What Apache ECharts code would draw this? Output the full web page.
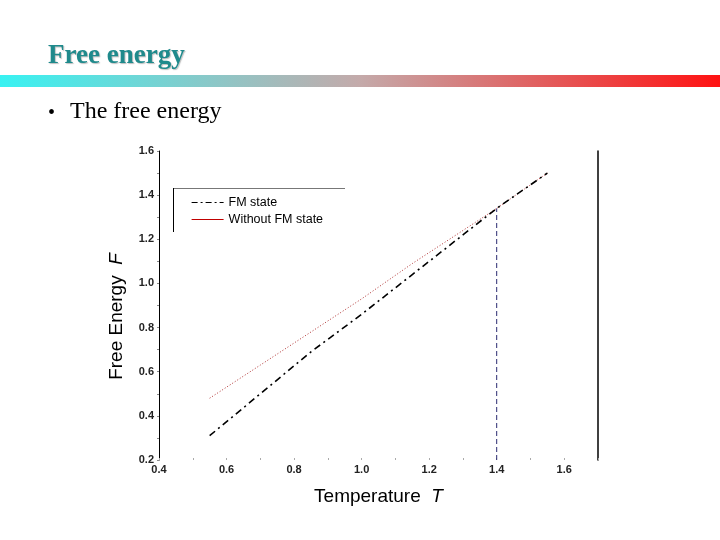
<!DOCTYPE html>
<html>
<head>
<meta charset="utf-8">
<style>
  html, body { margin: 0; padding: 0; background: #fff; }
  #chart { width: 720px; height: 540px; }
</style>
<script src="https://cdn.jsdelivr.net/npm/echarts@6/dist/echarts.min.js"></script>
</head>
<body>
<div id="chart"></div>
<script>
// values
var temps = [0.55, 0.7, 0.85, 1.0, 1.15, 1.3, 1.4, 1.55]
var fmState = [0.31, 0.50, 0.69, 0.86, 1.04, 1.22, 1.34, 1.50]
var withoutFM = [0.48, 0.63, 0.78, 0.93, 1.09, 1.24, 1.34, 1.50]
var tc = 1.4
var tcEnergy = 1.34
var legendNames = ['FM state', 'Without FM state']

function pairs(xs, ys) {
  return xs.map(function (x, i) { return [x, ys[i]] })
}

var chart = echarts.init(document.getElementById('chart'))

chart.setOption({
  backgroundColor: '#fff',
  animation: false,
  title: {
    text: 'Free energy',
    left: 43,
    top: 38,
    textStyle: {
      fontFamily: 'Liberation Serif',
      fontWeight: 'bold',
      fontSize: 27,
      color: '#1f8a8c',
      textShadowColor: 'rgba(0,0,0,0.25)',
      textShadowOffsetX: 1,
      textShadowOffsetY: 1,
      textShadowBlur: 1
    }
  },
  graphic: [
    {
      type: 'rect',
      shape: { x: 0, y: 75, width: 720, height: 12 },
      style: {
        fill: {
          type: 'linear', x: 0, y: 0, x2: 1, y2: 0,
          colorStops: [
            { offset: 0, color: '#38f2f2' },
            { offset: 0.5, color: '#c4aaaa' },
            { offset: 1, color: '#ff1212' }
          ]
        }
      },
      silent: true
    },
    {
      type: 'text',
      left: 48,
      top: 104,
      style: { text: '\u2022', font: '20px "Liberation Serif"', fill: '#000' }
    },
    {
      type: 'text',
      left: 70,
      top: 100,
      style: { text: 'The free energy', font: '24px "Liberation Serif"', fill: '#000' }
    },
    // partial frame round the legend
    {
      type: 'line',
      shape: { x1: 173, y1: 188.5, x2: 345, y2: 188.5 },
      style: { stroke: '#777', lineWidth: 1 }
    },
    {
      type: 'line',
      shape: { x1: 173.5, y1: 188, x2: 173.5, y2: 232 },
      style: { stroke: '#000', lineWidth: 1 }
    }
  ],
  legend: {
    orient: 'vertical',
    left: 191,
    top: 196,
    padding: 0,
    itemWidth: 32,
    itemHeight: 12,
    itemGap: 4,
    textStyle: { fontFamily: 'Liberation Sans', fontSize: 12.5, color: '#000' },
    data: [
      {
        name: legendNames[0],
        lineStyle: { type: [6, 3, 2, 3], width: 1.2, color: '#000' },
        itemStyle: { opacity: 0 }
      },
      {
        name: legendNames[1],
        lineStyle: { type: 'solid', width: 1, color: '#c00000' },
        itemStyle: { opacity: 0 }
      }
    ]
  },
  grid: {
    left: 159,
    right: 122,
    top: 151,
    bottom: 80,
    containLabel: false
  },
  xAxis: {
    type: 'value',
    min: 0.4,
    max: 1.7,
    interval: 0.2,
    name: '{n|Temperature  }{i|T}',
    nameLocation: 'middle',
    nameGap: 27,
    nameTextStyle: {
      rich: {
        n: { fontFamily: 'Liberation Sans', fontSize: 19, color: '#000' },
        i: { fontFamily: 'Liberation Sans', fontSize: 19, fontStyle: 'italic', color: '#000' }
      }
    },
    axisLine: { show: false },
    axisTick: { show: true, length: 2, inside: true, lineStyle: { color: '#aaa' } },
    minorTick: { show: true, splitNumber: 2, length: 2, lineStyle: { color: '#aaa' } },
    splitLine: { show: false },
    axisLabel: {
      showMaxLabel: false,
      margin: 4,
      fontFamily: 'Liberation Sans',
      fontSize: 11,
      fontWeight: 'bold',
      color: '#222',
      formatter: function (v) { return v.toFixed(1) }
    }
  },
  yAxis: [
    {
      type: 'value',
      min: 0.2,
      max: 1.6,
      interval: 0.2,
      name: '{n|Free Energy  }{i|F}',
      nameLocation: 'middle',
      nameGap: 33,
      nameRotate: 90,
      nameTextStyle: {
        padding: [0, 22, 0, 0],
        rich: {
          n: { fontFamily: 'Liberation Sans', fontSize: 19, color: '#000' },
          i: { fontFamily: 'Liberation Sans', fontSize: 19, fontStyle: 'italic', color: '#000' }
        }
      },
      axisLine: { show: true, lineStyle: { color: '#000', width: 1 } },
      axisTick: { show: true, length: 2, lineStyle: { color: '#888' } },
      minorTick: { show: true, splitNumber: 2, length: 2, lineStyle: { color: '#888' } },
      splitLine: { show: false },
      axisLabel: {
        margin: 5,
        fontFamily: 'Liberation Sans',
        fontSize: 11,
        fontWeight: 'bold',
        color: '#222',
        formatter: function (v) { return v.toFixed(1) }
      }
    },
    {
      type: 'value',
      min: 0.2,
      max: 1.6,
      interval: 0.2,
      position: 'right',
      axisLine: { show: true, lineStyle: { color: '#000', width: 1.5 } },
      axisTick: { show: false },
      axisLabel: { show: false },
      splitLine: { show: false }
    }
  ],
  series: [
    {
      name: legendNames[1],
      type: 'line',
      data: pairs(temps, withoutFM),
      symbol: 'none',
      lineStyle: { color: '#b03030', width: 1, type: [1, 2] },
      itemStyle: { color: '#c00000' },
      z: 2
    },
    {
      name: legendNames[0],
      type: 'line',
      data: pairs(temps, fmState),
      symbol: 'none',
      lineStyle: { color: '#000', width: 1.6, type: [7, 4, 2, 4] },
      itemStyle: { color: '#000' },
      z: 3
    },
    {
      name: 'Tc',
      type: 'line',
      data: [[tc, 0.2], [tc, tcEnergy]],
      symbol: 'none',
      lineStyle: { color: '#2a2a70', width: 1, type: [5, 3] },
      z: 1
    }
  ]
})
</script>
</body>
</html>
